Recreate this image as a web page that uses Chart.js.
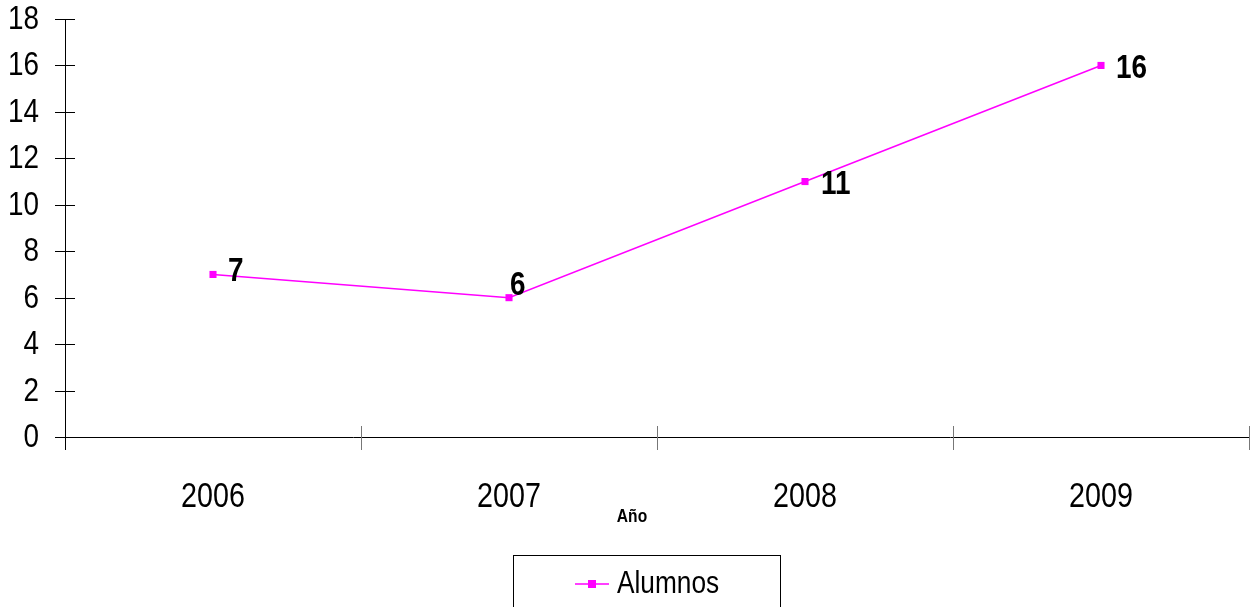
<!DOCTYPE html>
<html>
<head>
<meta charset="utf-8">
<script src="https://cdn.jsdelivr.net/npm/chart.js@4.4.1/dist/chart.umd.min.js"></script>
<style>
  html, body { margin: 0; padding: 0; background: #fff; }
  #wrap { width: 1254px; height: 607px; }
</style>
</head>
<body>
<div id="wrap"><canvas id="myChart" width="1254" height="607"></canvas></div>
<script>
// datos
const anios = ['2006', '2007', '2008', '2009'];
const alumnos = [7, 6, 11, 16];
const yTicks = [0, 2, 4, 6, 8, 10, 12, 14, 16, 18];
const serieNombre = 'Alumnos';
const ejeXTitulo = 'Año';

const FONT = "'Liberation Sans', Arial, sans-serif";
const MAGENTA = '#ff00ff';
const NARROW = 0.82; // Arial -> Arial Narrow

// texto "estrecho": Arial comprimido en horizontal
function narrowText(ctx, text, x, y, align, font) {
    ctx.save();
    ctx.font = font;
    ctx.textAlign = align;
    ctx.textBaseline = 'middle';
    ctx.fillStyle = '#000';
    ctx.translate(x, y);
    ctx.scale(NARROW, 1);
    ctx.fillText(text, 0, 0);
    ctx.restore();
}

// ejes, etiquetas y leyenda dibujados a mano (estilo Excel)
const excelPlugin = {
    id: 'excelPlugin',
    beforeDatasetsDraw(chart) {
        const ctx = chart.ctx;
        const area = chart.chartArea;
        const x = chart.scales.x;
        const y = chart.scales.y;
        const yTop = y.getPixelForValue(yTicks[yTicks.length - 1]);
        ctx.save();
        ctx.lineWidth = 1;
        ctx.strokeStyle = '#000';
        // eje y
        ctx.beginPath();
        ctx.moveTo(area.left + 0.5, yTop);
        ctx.lineTo(area.left + 0.5, area.bottom + 13);
        ctx.stroke();
        yTicks.forEach(function (v) {
            const py = Math.round(y.getPixelForValue(v)) + 0.5;
            ctx.beginPath();
            ctx.moveTo(area.left - 10, py);
            ctx.lineTo(area.left + 10, py);
            ctx.stroke();
            narrowText(ctx, String(v), area.left - 26, py, 'right', '34px ' + FONT);
        });
        // eje x
        ctx.beginPath();
        ctx.moveTo(area.left - 10, area.bottom + 0.5);
        ctx.lineTo(area.right, area.bottom + 0.5);
        ctx.stroke();
        ctx.strokeStyle = '#777';
        for (let i = 1; i <= anios.length; i++) {
            const px = Math.round(x.getPixelForValue(i - 0.5)) + 0.5;
            ctx.beginPath();
            ctx.moveTo(px, area.bottom - 11);
            ctx.lineTo(px, area.bottom + 13);
            ctx.stroke();
        }
        anios.forEach(function (a, i) {
            narrowText(ctx, a, x.getPixelForValue(i), area.bottom + 60, 'center', '35px ' + FONT);
        });
        ctx.restore();
    },
    afterDraw(chart) {
        const ctx = chart.ctx;
        const area = chart.chartArea;
        const meta = chart.getDatasetMeta(0);
        const ds = chart.data.datasets[0];
        const offsets = [[15, -3], [1, -12], [16, 3], [15, 3]];
        // etiquetas de datos
        meta.data.forEach(function (pt, i) {
            narrowText(ctx, String(ds.data[i]), pt.x + offsets[i][0], pt.y + offsets[i][1], 'left', 'bold 34px ' + FONT);
        });
        // titulo eje x
        narrowText(ctx, ejeXTitulo, (area.left + area.right) / 2 - 25, 517, 'center', 'bold 19px ' + FONT);
        // leyenda
        ctx.save();
        ctx.strokeStyle = '#000';
        ctx.lineWidth = 1;
        ctx.strokeRect(513.5, 555.5, 267, 70);
        ctx.strokeStyle = ds.borderColor;
        ctx.lineWidth = 1.5;
        ctx.beginPath();
        ctx.moveTo(575, 584);
        ctx.lineTo(609, 584);
        ctx.stroke();
        ctx.fillStyle = ds.pointBackgroundColor;
        ctx.fillRect(588, 580, 8, 8);
        ctx.restore();
        narrowText(ctx, ds.label, 617, 584, 'left', '32px ' + FONT);
    }
};

const ctx = document.getElementById('myChart').getContext('2d');
const myChart = new Chart(ctx, {
    type: 'line',
    data: {
        labels: anios,
        datasets: [{
            label: serieNombre,
            data: alumnos,
            borderColor: MAGENTA,
            backgroundColor: MAGENTA,
            pointBackgroundColor: MAGENTA,
            pointBorderColor: MAGENTA,
            borderWidth: 1.5,
            pointStyle: 'rect',
            pointRadius: 5,
            pointBorderWidth: 0,
            tension: 0
        }]
    },
    options: {
        responsive: false,
        animation: false,
        events: [],
        layout: { padding: { top: 19, right: 4, left: 0, bottom: 0 } },
        plugins: {
            legend: { display: false },
            tooltip: { enabled: false }
        },
        scales: {
            x: {
                offset: true,
                grid: { display: false, drawTicks: false },
                border: { display: false },
                ticks: { display: false },
                afterFit(scale) { scale.height = 170; }
            },
            y: {
                min: 0,
                max: 18,
                grid: { display: false, drawTicks: false },
                border: { display: false },
                ticks: { display: false, stepSize: 2 },
                afterFit(scale) { scale.width = 65; }
            }
        }
    },
    plugins: [excelPlugin]
});
</script>
</body>
</html>
